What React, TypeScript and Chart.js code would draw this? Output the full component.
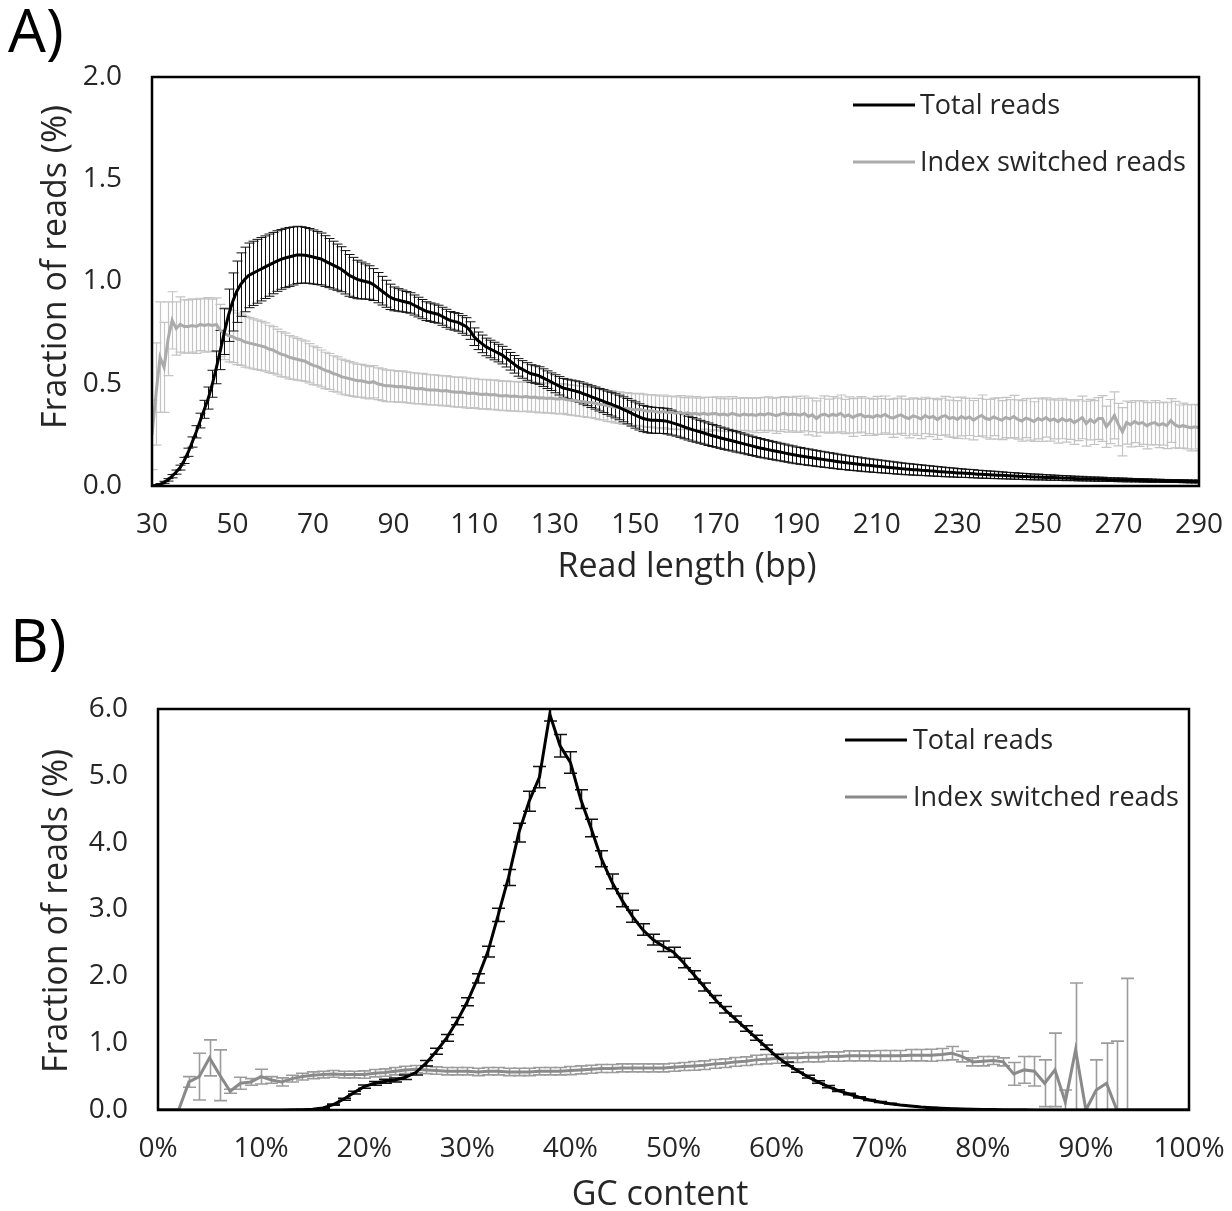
import React, { useEffect, useRef } from 'react';
import { Chart, registerables } from 'chart.js';

Chart.register(...registerables);

const FONT = '"Open Sans", "Noto Sans", sans-serif';
const TEXT = '#262626';

// ---------------- Panel A: read length distribution ----------------
// read lengths 30..290 bp, one point per bp
const readLengths: number[] = [];
for (let bp = 30; bp <= 290; bp++) readLengths.push(bp);

const totalA: number[] = [
  0.000, 0.002, 0.008, 0.018, 0.030, 0.048, 0.068, 0.090, 0.125, 0.165, // 30
  0.215, 0.265, 0.320, 0.375, 0.430, 0.500, 0.580, 0.665, 0.755, 0.835, // 40
  0.900, 0.950, 0.985, 1.010, 1.030, 1.040, 1.050, 1.060, 1.070, 1.080, // 50
  1.090, 1.100, 1.108, 1.115, 1.120, 1.125, 1.130, 1.130, 1.128, 1.125, // 60
  1.120, 1.115, 1.110, 1.100, 1.090, 1.080, 1.070, 1.060, 1.045, 1.030, // 70
  1.020, 1.010, 1.005, 1.000, 0.995, 0.985, 0.970, 0.955, 0.940, 0.925, // 80
  0.915, 0.910, 0.905, 0.900, 0.895, 0.885, 0.875, 0.865, 0.855, 0.850, // 90
  0.845, 0.840, 0.830, 0.820, 0.810, 0.805, 0.800, 0.790, 0.780, 0.760, // 100
  0.730, 0.710, 0.695, 0.680, 0.670, 0.660, 0.650, 0.640, 0.625, 0.610, // 110
  0.595, 0.580, 0.570, 0.560, 0.550, 0.545, 0.540, 0.530, 0.520, 0.510, // 120
  0.500, 0.490, 0.480, 0.475, 0.470, 0.465, 0.460, 0.452, 0.445, 0.437, // 130
  0.430, 0.422, 0.415, 0.407, 0.400, 0.392, 0.384, 0.375, 0.366, 0.356, // 140
  0.347, 0.338, 0.330, 0.325, 0.322, 0.321, 0.320, 0.319, 0.316, 0.310, // 150
  0.304, 0.298, 0.290, 0.283, 0.277, 0.271, 0.265, 0.259, 0.253, 0.247, // 160
  0.242, 0.236, 0.231, 0.226, 0.221, 0.216, 0.211, 0.206, 0.201, 0.196, // 170
  0.191, 0.186, 0.182, 0.178, 0.174, 0.170, 0.166, 0.162, 0.158, 0.154, // 180
  0.150, 0.147, 0.144, 0.141, 0.138, 0.135, 0.132, 0.129, 0.126, 0.123, // 190
  0.120, 0.117, 0.115, 0.112, 0.110, 0.108, 0.105, 0.103, 0.101, 0.099, // 200
  0.097, 0.095, 0.093, 0.091, 0.089, 0.087, 0.085, 0.083, 0.082, 0.080, // 210
  0.079, 0.077, 0.076, 0.074, 0.073, 0.071, 0.070, 0.068, 0.067, 0.066, // 220
  0.064, 0.063, 0.062, 0.061, 0.060, 0.058, 0.057, 0.056, 0.055, 0.054, // 230
  0.053, 0.052, 0.051, 0.050, 0.049, 0.048, 0.047, 0.046, 0.045, 0.044, // 240
  0.044, 0.043, 0.042, 0.041, 0.041, 0.040, 0.039, 0.038, 0.038, 0.037, // 250
  0.036, 0.036, 0.035, 0.034, 0.034, 0.033, 0.033, 0.032, 0.031, 0.031, // 260
  0.030, 0.030, 0.029, 0.029, 0.028, 0.028, 0.027, 0.027, 0.026, 0.026, // 270
  0.026, 0.025, 0.025, 0.024, 0.024, 0.024, 0.023, 0.023, 0.022, 0.022, // 280
  0.022, // 290
];

const totalErrA: number[] = [
  0.002, 0.003, 0.004, 0.005, 0.006, 0.008, 0.010, 0.012, 0.015, 0.020, // 30
  0.025, 0.030, 0.036, 0.044, 0.054, 0.066, 0.080, 0.096, 0.112, 0.128, // 40
  0.142, 0.150, 0.155, 0.158, 0.158, 0.157, 0.156, 0.155, 0.153, 0.152, // 50
  0.150, 0.148, 0.146, 0.145, 0.144, 0.142, 0.140, 0.138, 0.136, 0.134, // 60
  0.132, 0.130, 0.127, 0.124, 0.120, 0.117, 0.113, 0.110, 0.106, 0.102, // 70
  0.098, 0.094, 0.090, 0.086, 0.082, 0.078, 0.074, 0.070, 0.066, 0.062, // 80
  0.058, 0.055, 0.053, 0.051, 0.050, 0.049, 0.048, 0.047, 0.046, 0.045, // 90
  0.045, 0.044, 0.044, 0.044, 0.043, 0.043, 0.043, 0.043, 0.043, 0.043, // 100
  0.043, 0.043, 0.043, 0.043, 0.043, 0.043, 0.043, 0.043, 0.043, 0.043, // 110
  0.043, 0.043, 0.043, 0.043, 0.043, 0.043, 0.043, 0.043, 0.043, 0.043, // 120
  0.044, 0.045, 0.046, 0.047, 0.048, 0.049, 0.050, 0.051, 0.052, 0.053, // 130
  0.054, 0.055, 0.056, 0.057, 0.058, 0.059, 0.060, 0.061, 0.062, 0.063, // 140
  0.064, 0.064, 0.064, 0.064, 0.064, 0.063, 0.063, 0.062, 0.062, 0.061, // 150
  0.060, 0.060, 0.059, 0.058, 0.058, 0.057, 0.056, 0.055, 0.055, 0.054, // 160
  0.053, 0.052, 0.052, 0.051, 0.050, 0.050, 0.049, 0.048, 0.048, 0.047, // 170
  0.046, 0.046, 0.045, 0.045, 0.044, 0.044, 0.043, 0.043, 0.042, 0.042, // 180
  0.041, 0.041, 0.040, 0.040, 0.039, 0.039, 0.038, 0.038, 0.037, 0.037, // 190
  0.036, 0.036, 0.035, 0.035, 0.034, 0.034, 0.033, 0.033, 0.032, 0.032, // 200
  0.031, 0.031, 0.030, 0.030, 0.029, 0.029, 0.028, 0.028, 0.027, 0.027, // 210
  0.026, 0.026, 0.025, 0.025, 0.024, 0.024, 0.023, 0.023, 0.022, 0.022, // 220
  0.021, 0.021, 0.020, 0.020, 0.020, 0.019, 0.019, 0.018, 0.018, 0.018, // 230
  0.017, 0.017, 0.016, 0.016, 0.016, 0.015, 0.015, 0.015, 0.014, 0.014, // 240
  0.014, 0.013, 0.013, 0.013, 0.012, 0.012, 0.012, 0.012, 0.011, 0.011, // 250
  0.011, 0.011, 0.010, 0.010, 0.010, 0.010, 0.010, 0.009, 0.009, 0.009, // 260
  0.009, 0.009, 0.009, 0.008, 0.008, 0.008, 0.008, 0.008, 0.008, 0.007, // 270
  0.007, 0.007, 0.007, 0.007, 0.007, 0.007, 0.007, 0.007, 0.007, 0.007, // 280
  0.007, // 290
];

const indexA: number[] = [
  0.250, 0.450, 0.630, 0.580, 0.720, 0.810, 0.770, 0.790, 0.780, 0.780, // 30
  0.785, 0.780, 0.790, 0.785, 0.790, 0.785, 0.790, 0.760, 0.745, 0.735, // 40
  0.730, 0.720, 0.715, 0.705, 0.700, 0.695, 0.690, 0.685, 0.680, 0.670, // 50
  0.665, 0.655, 0.645, 0.640, 0.630, 0.625, 0.620, 0.615, 0.610, 0.600, // 60
  0.590, 0.585, 0.575, 0.565, 0.560, 0.550, 0.545, 0.535, 0.530, 0.525, // 70
  0.520, 0.515, 0.515, 0.510, 0.505, 0.510, 0.500, 0.495, 0.490, 0.490, // 80
  0.488, 0.485, 0.487, 0.483, 0.480, 0.478, 0.475, 0.477, 0.472, 0.470, // 90
  0.470, 0.468, 0.465, 0.467, 0.462, 0.460, 0.458, 0.460, 0.455, 0.452, // 100
  0.455, 0.450, 0.448, 0.450, 0.445, 0.447, 0.443, 0.440, 0.442, 0.438, // 110
  0.440, 0.437, 0.435, 0.438, 0.433, 0.435, 0.430, 0.432, 0.428, 0.430, // 120
  0.427, 0.425, 0.428, 0.422, 0.420, 0.418, 0.415, 0.413, 0.410, 0.408, // 130
  0.405, 0.400, 0.398, 0.392, 0.390, 0.385, 0.383, 0.378, 0.380, 0.375, // 140
  0.372, 0.375, 0.370, 0.366, 0.368, 0.364, 0.360, 0.365, 0.358, 0.360, // 150
  0.356, 0.360, 0.354, 0.358, 0.352, 0.355, 0.350, 0.356, 0.350, 0.353, // 160
  0.355, 0.348, 0.352, 0.346, 0.355, 0.350, 0.345, 0.352, 0.347, 0.350, // 170
  0.345, 0.352, 0.348, 0.354, 0.350, 0.344, 0.350, 0.356, 0.348, 0.352, // 180
  0.350, 0.346, 0.355, 0.340, 0.348, 0.330, 0.345, 0.352, 0.342, 0.350, // 190
  0.345, 0.355, 0.340, 0.348, 0.335, 0.345, 0.350, 0.338, 0.342, 0.336, // 200
  0.345, 0.340, 0.350, 0.338, 0.332, 0.342, 0.348, 0.336, 0.330, 0.343, // 210
  0.337, 0.328, 0.345, 0.334, 0.340, 0.325, 0.338, 0.344, 0.330, 0.336, // 220
  0.325, 0.340, 0.330, 0.338, 0.322, 0.335, 0.345, 0.330, 0.326, 0.338, // 230
  0.330, 0.322, 0.335, 0.328, 0.340, 0.325, 0.318, 0.332, 0.326, 0.315, // 240
  0.330, 0.322, 0.335, 0.320, 0.328, 0.315, 0.330, 0.318, 0.325, 0.310, // 250
  0.322, 0.335, 0.305, 0.325, 0.310, 0.330, 0.330, 0.290, 0.315, 0.345, // 260
  0.300, 0.265, 0.310, 0.300, 0.315, 0.305, 0.310, 0.295, 0.305, 0.310, // 270
  0.298, 0.305, 0.295, 0.320, 0.300, 0.290, 0.295, 0.290, 0.285, 0.290, // 280
  0.285, // 290
];

const indexErrA: number[] = [
  0.170, 0.250, 0.270, 0.220, 0.180, 0.140, 0.130, 0.135, 0.130, 0.130, // 30
  0.130, 0.132, 0.128, 0.130, 0.131, 0.129, 0.130, 0.128, 0.127, 0.128, // 40
  0.127, 0.126, 0.125, 0.124, 0.123, 0.122, 0.121, 0.120, 0.118, 0.116, // 50
  0.114, 0.112, 0.110, 0.108, 0.106, 0.104, 0.102, 0.100, 0.098, 0.096, // 60
  0.094, 0.092, 0.090, 0.089, 0.088, 0.087, 0.086, 0.085, 0.084, 0.083, // 70
  0.082, 0.081, 0.080, 0.080, 0.079, 0.079, 0.078, 0.078, 0.077, 0.077, // 80
  0.076, 0.076, 0.076, 0.075, 0.075, 0.075, 0.074, 0.074, 0.074, 0.074, // 90
  0.073, 0.073, 0.073, 0.073, 0.073, 0.073, 0.073, 0.073, 0.073, 0.073, // 100
  0.072, 0.072, 0.072, 0.072, 0.072, 0.072, 0.072, 0.072, 0.072, 0.072, // 110
  0.072, 0.072, 0.072, 0.072, 0.072, 0.072, 0.072, 0.072, 0.072, 0.072, // 120
  0.073, 0.073, 0.073, 0.073, 0.073, 0.074, 0.074, 0.074, 0.074, 0.074, // 130
  0.075, 0.075, 0.075, 0.076, 0.076, 0.076, 0.077, 0.077, 0.077, 0.078, // 140
  0.078, 0.078, 0.079, 0.079, 0.079, 0.080, 0.080, 0.080, 0.080, 0.080, // 150
  0.080, 0.082, 0.078, 0.081, 0.079, 0.082, 0.080, 0.078, 0.083, 0.080, // 160
  0.081, 0.079, 0.084, 0.080, 0.082, 0.078, 0.085, 0.080, 0.083, 0.081, // 170
  0.084, 0.080, 0.086, 0.082, 0.080, 0.087, 0.083, 0.081, 0.085, 0.082, // 180
  0.088, 0.083, 0.085, 0.090, 0.082, 0.086, 0.084, 0.089, 0.083, 0.087, // 190
  0.085, 0.090, 0.084, 0.088, 0.092, 0.085, 0.087, 0.091, 0.086, 0.089, // 200
  0.093, 0.087, 0.090, 0.086, 0.094, 0.088, 0.091, 0.089, 0.095, 0.088, // 210
  0.090, 0.096, 0.089, 0.093, 0.088, 0.097, 0.091, 0.094, 0.090, 0.098, // 220
  0.092, 0.095, 0.099, 0.091, 0.096, 0.093, 0.100, 0.094, 0.097, 0.092, // 230
  0.101, 0.095, 0.098, 0.094, 0.103, 0.096, 0.099, 0.095, 0.102, 0.097, // 240
  0.100, 0.104, 0.096, 0.101, 0.098, 0.105, 0.099, 0.103, 0.097, 0.106, // 250
  0.100, 0.104, 0.110, 0.099, 0.107, 0.102, 0.112, 0.101, 0.108, 0.115, // 260
  0.104, 0.118, 0.105, 0.109, 0.103, 0.111, 0.106, 0.113, 0.104, 0.108, // 270
  0.110, 0.105, 0.112, 0.107, 0.114, 0.106, 0.110, 0.108, 0.113, 0.109, // 280
  0.112, // 290
];

// ---------------- Panel B: GC content distribution ----------------
// GC content 0..100 %, one point per percent
const gcLevels: number[] = [];
for (let g = 0; g <= 100; g++) gcLevels.push(g);

const totalB: number[] = [
  0, 0, 0, 0, 0, 0, 0, 0, 0, 0, // 0
  0, 0, 0, 0.002, 0.005, 0.010, 0.030, 0.080, 0.160, 0.260, // 10
  0.350, 0.400, 0.430, 0.450, 0.490, 0.560, 0.700, 0.880, 1.080, 1.330, // 20
  1.620, 1.970, 2.370, 2.920, 3.480, 4.150, 4.620, 4.980, 5.920, 5.450, // 30
  5.200, 4.650, 4.220, 3.760, 3.420, 3.140, 2.900, 2.700, 2.550, 2.450, // 40
  2.360, 2.200, 2.020, 1.840, 1.660, 1.500, 1.360, 1.220, 1.080, 0.940, // 50
  0.800, 0.690, 0.590, 0.500, 0.420, 0.350, 0.290, 0.240, 0.190, 0.150, // 60
  0.120, 0.095, 0.075, 0.060, 0.045, 0.035, 0.027, 0.020, 0.015, 0.011, // 70
  0.008, 0.006, 0.004, 0.003, 0.002, 0.001, 0, 0, 0, 0, // 80
  0, 0, 0, 0, 0, 0, 0, 0, 0, 0, // 90
  0, // 100
];

const totalErrB: number[] = [
  0, 0, 0, 0, 0, 0, 0, 0, 0, 0, // 0
  0, 0, 0, 0.001, 0.002, 0.003, 0.005, 0.010, 0.015, 0.020, // 10
  0.025, 0.028, 0.030, 0.030, 0.032, 0.035, 0.040, 0.045, 0.050, 0.055, // 20
  0.060, 0.070, 0.080, 0.100, 0.120, 0.140, 0.150, 0.160, 0.100, 0.170, // 30
  0.160, 0.140, 0.130, 0.120, 0.110, 0.100, 0.090, 0.085, 0.080, 0.080, // 40
  0.075, 0.070, 0.065, 0.060, 0.055, 0.050, 0.045, 0.040, 0.037, 0.033, // 50
  0.030, 0.027, 0.024, 0.021, 0.018, 0.016, 0.014, 0.012, 0.010, 0.008, // 60
  0.006, 0.005, 0.004, 0.003, 0.003, 0.002, 0.002, 0.001, 0.001, 0.001, // 70
  0, 0, 0, 0, 0, 0, 0, 0, 0, 0, // 80
  0, 0, 0, 0, 0, 0, 0, 0, 0, 0, // 90
  0, // 100
];

const indexB: number[] = [
  0, 0, 0, 0.420, 0.500, 0.780, 0.520, 0.280, 0.400, 0.420, // 0
  0.500, 0.450, 0.420, 0.470, 0.500, 0.520, 0.530, 0.540, 0.530, 0.530, // 10
  0.530, 0.550, 0.560, 0.580, 0.600, 0.610, 0.600, 0.590, 0.580, 0.580, // 20
  0.580, 0.570, 0.580, 0.580, 0.570, 0.570, 0.570, 0.580, 0.580, 0.580, // 30
  0.590, 0.600, 0.610, 0.620, 0.620, 0.630, 0.630, 0.630, 0.630, 0.630, // 40
  0.640, 0.650, 0.660, 0.670, 0.690, 0.700, 0.720, 0.730, 0.750, 0.760, // 50
  0.770, 0.780, 0.780, 0.790, 0.790, 0.800, 0.800, 0.810, 0.810, 0.810, // 60
  0.810, 0.810, 0.810, 0.820, 0.820, 0.820, 0.830, 0.850, 0.800, 0.720, // 70
  0.730, 0.740, 0.720, 0.540, 0.600, 0.580, 0.400, 0.600, 0.120, 0.900, // 80
  0, 0.300, 0.400, 0, 0, 0, 0, 0, 0, 0, // 90
  0, // 100
];

const indexErrB: number[] = [
  0, 0, 0, 0.080, 0.350, 0.270, 0.380, 0.030, 0.090, 0.050, // 0
  0.110, 0.050, 0.060, 0.050, 0.050, 0.050, 0.050, 0.050, 0.050, 0.050, // 10
  0.055, 0.055, 0.055, 0.055, 0.055, 0.055, 0.055, 0.055, 0.055, 0.055, // 20
  0.055, 0.055, 0.055, 0.055, 0.055, 0.055, 0.055, 0.055, 0.055, 0.055, // 30
  0.060, 0.060, 0.060, 0.060, 0.060, 0.060, 0.060, 0.060, 0.060, 0.060, // 40
  0.060, 0.060, 0.065, 0.065, 0.065, 0.065, 0.065, 0.065, 0.070, 0.070, // 50
  0.070, 0.070, 0.070, 0.070, 0.070, 0.070, 0.070, 0.075, 0.075, 0.075, // 60
  0.080, 0.080, 0.080, 0.085, 0.085, 0.090, 0.090, 0.100, 0.080, 0.060, // 70
  0.070, 0.060, 0.060, 0.170, 0.200, 0.220, 0.350, 0.550, 0.180, 1.000, // 80
  0, 0.450, 0.600, 1.030, 1.970, 0, 0, 0, 0, 0, // 90
  0, // 100
];

// ---------------- Tick / label text ----------------
const panelLabels = ['A)', 'B)'];
const seriesNames = ['Total reads', 'Index switched reads'];
const xTitles = ['Read length (bp)', 'GC content'];
const yTitle = 'Fraction of reads (%)';

// ---------------- plugins ----------------
const errorBarPlugin = {
  id: 'errorBars',
  beforeDatasetsDraw(chart: any) {
    const { ctx, chartArea } = chart;
    const xs = chart.scales.x;
    const ys = chart.scales.y;
    ctx.save();
    ctx.beginPath();
    ctx.rect(chartArea.left, chartArea.top, chartArea.right - chartArea.left, chartArea.bottom - chartArea.top);
    ctx.clip();
    for (let d = chart.data.datasets.length - 1; d >= 0; d--) {
      const ds: any = chart.data.datasets[d];
      const errs: number[] = ds.errors;
      if (!errs) continue;
      ctx.strokeStyle = ds.errorColor;
      ctx.lineWidth = ds.errorWidth;
      const cap = ds.capHalf;
      ds.data.forEach((p: any, i: number) => {
        const e = errs[i];
        if (!e) return;
        const x = Math.round(xs.getPixelForValue(p.x)) + 0.5;
        const yTop = ys.getPixelForValue(p.y + e);
        const yBot = ys.getPixelForValue(p.y - e);
        ctx.beginPath();
        ctx.moveTo(x, yTop);
        ctx.lineTo(x, yBot);
        ctx.moveTo(x - cap, yTop);
        ctx.lineTo(x + cap, yTop);
        ctx.moveTo(x - cap, yBot);
        ctx.lineTo(x + cap, yBot);
        ctx.stroke();
      });
    }
    ctx.restore();
  },
};

interface Decor {
  lineStart: number;
  lineEnd: number;
  textX: number;
  rows: number[];
  xTitle: string;
  xTitleX: number;
  xTitleY: number;
  yTitleX: number;
  yTitleY: number;
}

function frameLegendPlugin(dec: Decor) {
  return {
    id: 'frameLegend',
    afterDraw(chart: any) {
      const { ctx, chartArea: a } = chart;
      ctx.save();
      ctx.strokeStyle = '#000';
      ctx.lineWidth = 2.5;
      ctx.strokeRect(a.left, a.top, a.right - a.left, a.bottom - a.top);
      // legend inside the plot
      ctx.font = `27px ${FONT}`;
      ctx.textBaseline = 'middle';
      ctx.textAlign = 'left';
      chart.data.datasets.forEach((ds: any, i: number) => {
        const y = a.top + dec.rows[i];
        ctx.strokeStyle = ds.borderColor;
        ctx.lineWidth = 3;
        ctx.beginPath();
        ctx.moveTo(a.right - dec.lineStart, y);
        ctx.lineTo(a.right - dec.lineEnd, y);
        ctx.stroke();
        ctx.fillStyle = TEXT;
        ctx.fillText(ds.label, a.right - dec.textX, y + 1);
      });
      // axis titles
      ctx.font = `34px ${FONT}`;
      ctx.fillStyle = TEXT;
      ctx.textAlign = 'center';
      ctx.textBaseline = 'middle';
      ctx.fillText(dec.xTitle, dec.xTitleX, dec.xTitleY);
      ctx.translate(dec.yTitleX, dec.yTitleY);
      ctx.rotate(-Math.PI / 2);
      ctx.fillText(yTitle, 0, 0);
      ctx.restore();
    },
  };
}

interface PanelSpec {
  xs: number[];
  total: number[];
  totalErr: number[];
  index: number[];
  indexErr: number[];
  xMin: number;
  xMax: number;
  xStep: number;
  xFmt: (v: number) => string;
  yMax: number;
  yStep: number;
  canvasH: number;
  padTop: number;
  padRight: number;
  yWidth: number;
  xHeight: number;
  indexColor: string;
  indexErrColor: string;
  totalErrWidth: number;
  indexErrWidth: number;
  cap: number;
  decor: Decor;
}

function buildConfig(p: PanelSpec): any {
  return {
    type: 'line',
    data: {
      datasets: [
        {
          label: seriesNames[0],
          data: p.xs.map((x, i) => ({ x, y: p.total[i] })),
          borderColor: '#000000',
          borderWidth: 3,
          pointRadius: 0,
          tension: 0,
          errors: p.totalErr,
          errorColor: '#111111',
          errorWidth: p.totalErrWidth,
          capHalf: p.cap,
        },
        {
          label: seriesNames[1],
          data: p.xs.map((x, i) => ({ x, y: p.index[i] })),
          borderColor: p.indexColor,
          borderWidth: 3,
          pointRadius: 0,
          tension: 0,
          errors: p.indexErr,
          errorColor: p.indexErrColor,
          errorWidth: p.indexErrWidth,
          capHalf: p.cap,
        },
      ],
    },
    options: {
      animation: false,
      responsive: false,
      devicePixelRatio: 1,
      events: [],
      layout: { padding: { left: 0, right: p.padRight, top: p.padTop, bottom: 0 } },
      plugins: { legend: { display: false }, tooltip: { enabled: false } },
      scales: {
        x: {
          type: 'linear',
          min: p.xMin,
          max: p.xMax,
          grid: { display: false, drawTicks: true, tickLength: 22 },
          border: { display: false },
          ticks: {
            stepSize: p.xStep,
            autoSkip: false,
            maxRotation: 0,
            padding: 0,
            color: TEXT,
            font: { family: FONT, size: 28 },
            callback: (v: any) => p.xFmt(Number(v)),
          },
          title: { display: false },
          afterFit: (s: any) => {
            s.height = p.xHeight;
          },
        },
        y: {
          type: 'linear',
          min: 0,
          max: p.yMax,
          grid: { display: false, drawTicks: true, tickLength: 30 },
          border: { display: false },
          ticks: {
            stepSize: p.yStep,
            padding: 0,
            color: TEXT,
            font: { family: FONT, size: 28 },
            callback: (v: any) => Number(v).toFixed(1),
          },
          title: { display: false },
          afterFit: (s: any) => {
            s.width = p.yWidth;
          },
        },
      },
    },
    plugins: [errorBarPlugin, frameLegendPlugin(p.decor)],
  };
}

const panelA: PanelSpec = {
  xs: readLengths,
  total: totalA,
  totalErr: totalErrA,
  index: indexA,
  indexErr: indexErrA,
  xMin: 30,
  xMax: 290,
  xStep: 20,
  xFmt: (v) => String(v),
  yMax: 2,
  yStep: 0.5,
  canvasH: 600,
  padTop: 77,
  padRight: 33,
  yWidth: 152,
  xHeight: 114,
  indexColor: '#ababab',
  indexErrColor: '#c4c4c4',
  totalErrWidth: 1,
  indexErrWidth: 1.2,
  cap: 5,
  decor: {
    lineStart: 346, lineEnd: 284, textX: 279, rows: [28, 85],
    xTitle: xTitles[0], xTitleX: 687, xTitleY: 567, yTitleX: 56, yTitleY: 267,
  },
};

const panelB: PanelSpec = {
  xs: gcLevels,
  total: totalB,
  totalErr: totalErrB,
  index: indexB,
  indexErr: indexErrB,
  xMin: 0,
  xMax: 100,
  xStep: 10,
  xFmt: (v) => `${v}%`,
  yMax: 6,
  yStep: 1,
  canvasH: 611,
  padTop: 109,
  padRight: 43,
  yWidth: 158,
  xHeight: 101,
  indexColor: '#8a8a8a',
  indexErrColor: '#9c9c9c',
  totalErrWidth: 1.5,
  indexErrWidth: 1.6,
  cap: 6.5,
  decor: {
    lineStart: 344, lineEnd: 282, textX: 276, rows: [31, 88],
    xTitle: xTitles[1], xTitleX: 660, xTitleY: 595, yTitleX: 57, yTitleY: 311,
  },
};

function PanelCanvas({ spec, top }: { spec: PanelSpec; top: number }) {
  const ref = useRef<HTMLCanvasElement>(null);
  useEffect(() => {
    const chart = new Chart(ref.current as HTMLCanvasElement, buildConfig(spec));
    return () => chart.destroy();
  }, [spec]);
  return (
    <canvas
      ref={ref}
      width={1232}
      height={spec.canvasH}
      style={{ position: 'absolute', left: 0, top, width: 1232, height: spec.canvasH }}
    />
  );
}

const labelStyle: React.CSSProperties = {
  position: 'absolute',
  fontFamily: FONT,
  fontSize: 60,
  lineHeight: 1,
  color: '#000',
  margin: 0,
};

export default function App() {
  return (
    <div style={{ position: 'absolute', left: 0, top: 0, width: 1232, height: 1211, background: '#fff', overflow: 'hidden' }}>
      <PanelCanvas spec={panelA} top={0} />
      <PanelCanvas spec={panelB} top={600} />
      <div style={{ ...labelStyle, left: 8, top: -1 }}>{panelLabels[0]}</div>
      <div style={{ ...labelStyle, left: 10, top: 609 }}>{panelLabels[1]}</div>
    </div>
  );
}
